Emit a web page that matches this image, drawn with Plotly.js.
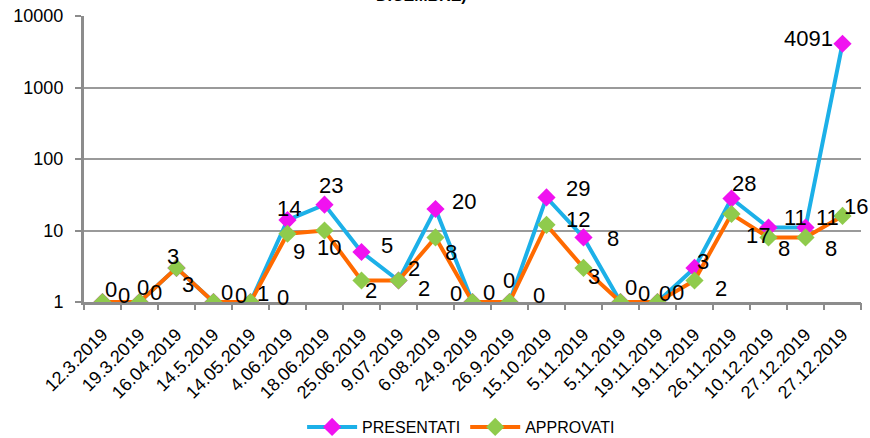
<!DOCTYPE html>
<html><head><meta charset="utf-8">
<script src="https://cdn.plot.ly/plotly-3.0.1.min.js"></script>
<style>html,body{margin:0;padding:0;background:#fff;}#chart{width:870px;height:438px;}</style>
</head><body><div id="chart"></div>
<script>
const dates = ["12.3.2019","19.3.2019","16.04.2019","14.5.2019","14.05.2019","4.06.2019","18.06.2019","25.06.2019","9.07.2019","6.08.2019","24.9.2019","26.9.2019","15.10.2019","5.11.2019","5.11.2019","19.11.2019","19.11.2019","26.11.2019","10.12.2019","27.12.2019","27.12.2019"];
const presentati = [0,0,3,0,1,14,23,5,2,20,0,0,29,8,0,0,3,28,11,11,4091];
const approvati  = [0,0,3,0,0,9,10,2,2,8,0,0,12,3,0,0,2,17,8,8,16];
const yTickVals = [1,10,100,1000,10000];
const yTickText = ["1","10","100","1000","10000"];

// label placement offsets (px) relative to each point: [dx, dy(down)]
const pOff = [[8,-13],[3,-15],[-4,-11],[13,-10],[12,-9],[1,-12],[6,-19],[25,-7],[15,-12],[28,-7],[-17,-9],[-1,-22],[31,-9],[29,1],[10,-15],[7,-9],[8,-6],[12,-15],[27,-10],[22,-10],[-34,-5]];
const aOff = [[21,-7],[16,-10],[11,17],[27,-7],[32,-5],[11,18],[4,17],[9,10],[25,8],[15,15],[16,-10],[29,-7],[31,-5],[10,9],[23,-9],[20,-10],[26,8],[26,21],[15,11],[25,11],[13,-9]];

const cats = dates.map((d,i)=>i);
const bounds = dates.map((d,i)=>i-0.5).concat([dates.length-0.5]);
const plotY = v => v > 0 ? v : 1;
const FONT = "Liberation Sans, Arial, sans-serif";

const traces = [
  {x:cats, y:presentati.map(plotY), name:"PRESENTATI", type:"scatter", mode:"lines+markers",
   line:{color:"#1cb0e8", width:4}, marker:{symbol:"diamond", size:14, color:"#f012f0", line:{width:0}}},
  {x:cats, y:approvati.map(plotY), name:"APPROVATI", type:"scatter", mode:"lines+markers",
   line:{color:"#ff6a00", width:4}, marker:{symbol:"diamond", size:14, color:"#8fcb4c", line:{width:0}}},
  {x:[0], y:[1], xaxis:"x2", yaxis:"y", showlegend:false, mode:"markers", marker:{opacity:0}, hoverinfo:"skip"}
];

const labelFont = {family:FONT, size:22, color:"#000"};
const ann = [];
presentati.forEach((v,i)=>ann.push({x:i, y:Math.log10(plotY(v)), xref:"x", yref:"y", text:String(v), showarrow:false,
  xshift:pOff[i][0], yshift:-pOff[i][1], font:labelFont}));
approvati.forEach((v,i)=>ann.push({x:i, y:Math.log10(plotY(v)), xref:"x", yref:"y", text:String(v), showarrow:false,
  xshift:aOff[i][0], yshift:-aOff[i][1], font:labelFont}));
ann.push({xref:"paper", yref:"paper", x:0.435, y:1.035, xanchor:"center", yanchor:"bottom", showarrow:false,
  text:"<b>DICEMBRE)</b>", font:{family:FONT, size:16, color:"#000"}});

const layout = {
  width:870, height:438,
  margin:{l:84, r:9, t:16, b:136},
  paper_bgcolor:"#fff", plot_bgcolor:"#fff",
  showlegend:true,
  legend:{orientation:"h", xref:"container", yref:"container", x:0.53, xanchor:"center", y:0.025, yanchor:"middle",
    font:{family:FONT, size:16, color:"#000"}, itemwidth:50, tracegroupgap:0},
  xaxis:{type:"linear", range:[-0.5,20.5], tickmode:"array", tickvals:cats, ticktext:dates, automargin:false,
    tickangle:-45, tickfont:{family:FONT, size:18, color:"#000"}, ticklabelstandoff:12,
    showgrid:false, zeroline:false, showline:true, linecolor:"#8c8c8c", linewidth:3,
    ticks:"", fixedrange:true},
  xaxis2:{overlaying:"x", range:[-0.5,20.5], tickmode:"array", tickvals:bounds, automargin:false,
    showticklabels:false, ticks:"outside", ticklen:7, tickwidth:2, tickcolor:"#8c8c8c",
    showgrid:false, zeroline:false, showline:false, side:"bottom", anchor:"y"},
  yaxis:{type:"log", range:[0,4], tickmode:"array", tickvals:yTickVals, ticktext:yTickText, automargin:false,
    tickfont:{family:FONT, size:18, color:"#000"}, ticklabelstandoff:8,
    showgrid:true, gridcolor:"#9a9a9a", gridwidth:2, zeroline:false,
    showline:true, linecolor:"#8c8c8c", linewidth:3, ticks:"outside", ticklen:6, tickwidth:2, tickcolor:"#8c8c8c"},
  annotations:ann
};
Plotly.newPlot("chart", traces, layout, {staticPlot:true});
</script></body></html>
